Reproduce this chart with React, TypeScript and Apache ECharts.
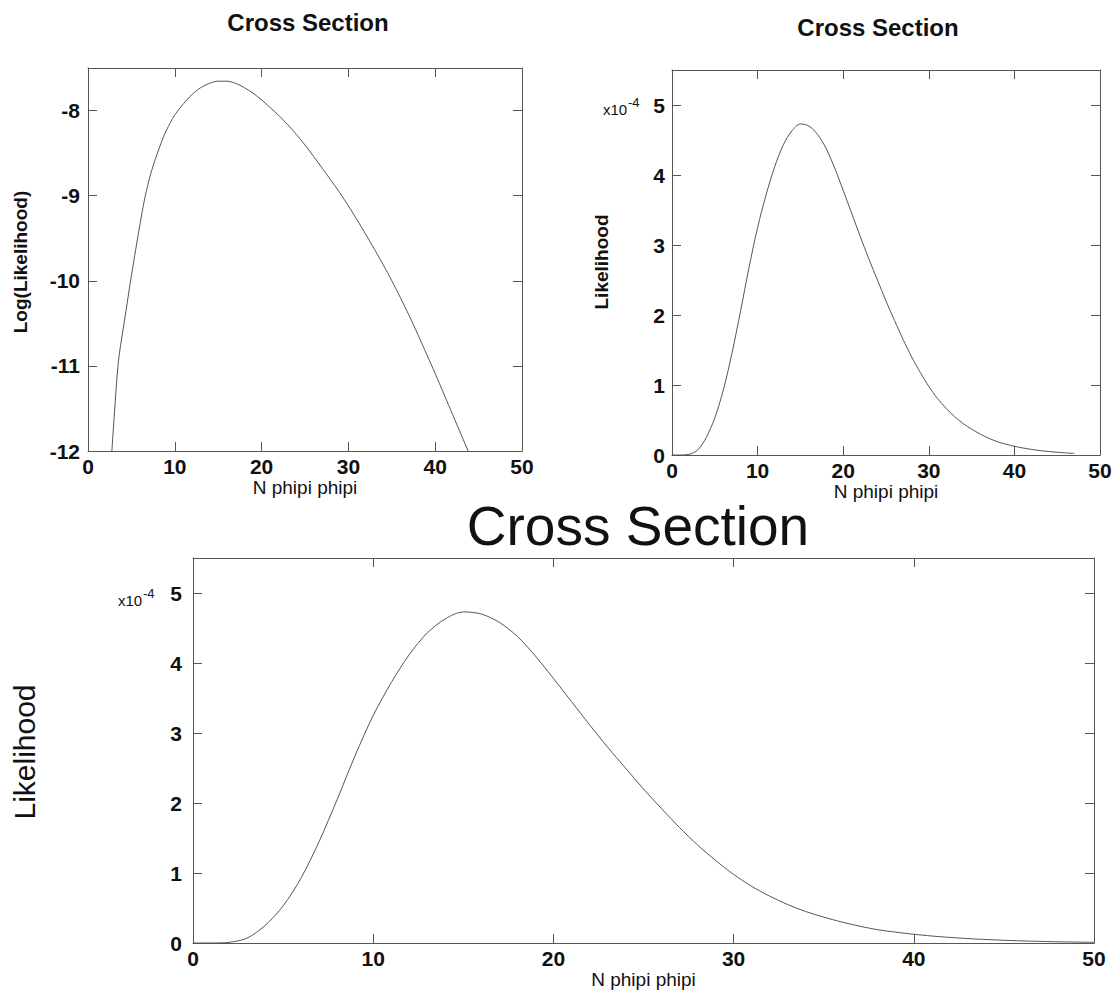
import { useEffect, useRef } from "react";
import * as echarts from "echarts";

// Sampled values of N phipi phipi (horizontal axis of the likelihood panels)
const nValues = [
  0, 1, 2, 3, 4, 5, 6, 7, 8, 9, 10, 11, 12, 13, 14, 15, 16, 17, 18, 19, 20, 21, 22, 23, 24, 25,
  26, 27, 28, 29, 30, 31, 32, 33, 34, 35, 36, 37, 38, 39, 40, 41, 42, 43, 44, 45, 46, 47, 48, 49, 50,
];

// Likelihood in units of 1e-4
const likelihoodE4 = [
  0, 0, 0.01, 0.07, 0.25, 0.53, 0.93, 1.45, 2.05, 2.68, 3.25, 3.72, 4.12, 4.43, 4.63, 4.73, 4.7,
  4.58, 4.38, 4.1, 3.78, 3.45, 3.12, 2.8, 2.5, 2.2, 1.92, 1.65, 1.4, 1.18, 0.98, 0.81, 0.67, 0.55,
  0.45, 0.37, 0.3, 0.24, 0.19, 0.155, 0.125, 0.1, 0.08, 0.063, 0.05, 0.039, 0.03, 0.023, 0.017,
  0.013, 0.01,
];

// Last N drawn in the small likelihood panel
const smallPanelLastN = 47;

// Natural log of the likelihood, sampled more densely on the steep rising edge
const logN = [
  2.5, 3, 3.5, 4, 4.5, 5, 5.5, 6, 6.5, 7, 7.5, 8, 8.5, 9, 9.5, 10, 11, 12, 13, 14, 15, 16, 17, 18,
  19, 20, 21, 22, 23, 24, 25, 26, 27, 28, 29, 30, 31, 32, 33, 34, 35, 36, 37, 38, 39, 40, 41, 42,
  43, 44, 45,
];
const logLikelihood = [
  -12.4, -11.62, -10.95, -10.6, -10.27, -9.94, -9.63, -9.33, -9.05, -8.83, -8.65, -8.5, -8.36,
  -8.24, -8.14, -8.05, -7.92, -7.81, -7.73, -7.68, -7.655, -7.655, -7.68, -7.73, -7.795, -7.875,
  -7.965, -8.06, -8.165, -8.28, -8.405, -8.54, -8.68, -8.82, -8.965, -9.12, -9.285, -9.455, -9.63,
  -9.81, -10.0, -10.2, -10.41, -10.63, -10.86, -11.09, -11.33, -11.57, -11.81, -12.05, -12.29,
];

const xRange = { min: 0, max: 50, interval: 10 };
const logRange = { min: -12, max: -7.5, interval: 1 };
const likeRange = { min: 0, max: 5.5, interval: 1 };

const FONT = "'Liberation Sans', Arial, Helvetica, sans-serif";
const FRAME = "#555";
const CURVE = "#555";
const INK = "#111";

type Box = { left: number; top: number; width: number; height: number };

const panels: Box[] = [
  { left: 88, top: 68, width: 434, height: 383 },
  { left: 672, top: 70, width: 428, height: 385 },
  { left: 193, top: 558, width: 901, height: 385 },
];

function xAxes(grid: number, nameGap: number) {
  const common = {
    gridIndex: grid,
    type: "value" as const,
    ...xRange,
    splitLine: { show: false },
    axisLine: { show: true, onZero: false, lineStyle: { color: FRAME, width: 1 } },
    axisTick: { show: true, inside: true, length: 9, lineStyle: { color: FRAME, width: 1 } },
  };
  return [
    {
      ...common,
      position: "bottom" as const,
      axisLabel: {
        show: true,
        margin: 5,
        fontSize: 21,
        fontWeight: "bold" as const,
        color: INK,
        fontFamily: FONT,
      },
      name: "N phipi phipi",
      nameLocation: "middle" as const,
      nameGap,
      nameTextStyle: { fontSize: 19, color: INK, fontFamily: FONT },
    },
    { ...common, position: "top" as const, axisLabel: { show: false } },
  ];
}

function yAxes(grid: number, range: typeof logRange, margin: number) {
  const common = {
    gridIndex: grid,
    type: "value" as const,
    ...range,
    splitLine: { show: false },
    axisLine: { show: true, onZero: false, lineStyle: { color: FRAME, width: 1 } },
    axisTick: { show: true, inside: true, length: 9, lineStyle: { color: FRAME, width: 1 } },
  };
  return [
    {
      ...common,
      position: "left" as const,
      axisLabel: {
        show: true,
        margin,
        fontSize: 21,
        fontWeight: "bold" as const,
        color: INK,
        fontFamily: FONT,
        showMaxLabel: false,
        formatter: (v: number) => (Number.isInteger(v) ? String(v) : ""),
      },
    },
    { ...common, position: "right" as const, axisLabel: { show: false } },
  ];
}

function title(text: string, x: number, y: number, size: number, weight = "normal") {
  return {
    type: "text",
    x,
    y,
    style: {
      text,
      fontSize: size,
      fontWeight: weight,
      fontFamily: FONT,
      fill: INK,
      textAlign: "center",
      textVerticalAlign: "middle",
    },
  };
}

function verticalName(text: string, x: number, y: number, size: number, weight = "normal") {
  return {
    type: "text",
    x,
    y,
    rotation: Math.PI / 2,
    style: {
      text,
      fontSize: size,
      fontWeight: weight,
      fontFamily: FONT,
      fill: INK,
      textAlign: "center",
      textVerticalAlign: "middle",
    },
  };
}

function scaleNote(x: number, y: number) {
  return [
    {
      type: "text",
      x,
      y,
      style: { text: "x10", fontSize: 15, fontFamily: FONT, fill: INK, textAlign: "left", textVerticalAlign: "middle" },
    },
    {
      type: "text",
      x: x + 25,
      y: y - 7,
      style: { text: "-4", fontSize: 13, fontFamily: FONT, fill: INK, textAlign: "left", textVerticalAlign: "middle" },
    },
  ];
}

function curve(xIndex: number, yIndex: number, data: number[][]) {
  return {
    type: "line" as const,
    xAxisIndex: xIndex,
    yAxisIndex: yIndex,
    data,
    showSymbol: false,
    smooth: 0.3,
    clip: true,
    lineStyle: { color: CURVE, width: 1 },
    silent: true,
  };
}

export default function App() {
  const ref = useRef<HTMLDivElement>(null);

  useEffect(() => {
    if (!ref.current) return;
    const chart = echarts.init(ref.current, undefined, { renderer: "svg" });

    const logData = logN.map((n, i) => [n, logLikelihood[i]]);
    const likeData = nValues.map((n, i) => [n, likelihoodE4[i]]);
    const likeSmall = likeData.filter(([n]) => n <= smallPanelLastN);

    chart.setOption({
      animation: false,
      backgroundColor: "#fff",
      grid: panels.map((p) => ({ ...p, show: false, containLabel: false })),
      xAxis: [...xAxes(0, 20), ...xAxes(1, 26), ...xAxes(2, 27)],
      yAxis: [...yAxes(0, logRange, 8), ...yAxes(1, likeRange, 7), ...yAxes(2, likeRange, 11)],
      series: [curve(0, 0, logData), curve(2, 2, likeSmall), curve(4, 4, likeData)],
      graphic: [
        title("Cross Section", 308, 22, 24, "bold"),
        title("Cross Section", 878, 27, 24, "bold"),
        title("Cross Section", 638, 526, 55),
        verticalName("Log(Likelihood)", 20, 262, 19, "bold"),
        verticalName("Likelihood", 601, 262, 19, "bold"),
        verticalName("Likelihood", 24, 752, 30),
        ...scaleNote(603, 109),
        ...scaleNote(118, 600),
      ],
    });

    return () => chart.dispose();
  }, []);

  return (
    <div
      ref={ref}
      style={{ position: "absolute", left: 0, top: 0, width: 1117, height: 993, background: "#fff" }}
    />
  );
}
